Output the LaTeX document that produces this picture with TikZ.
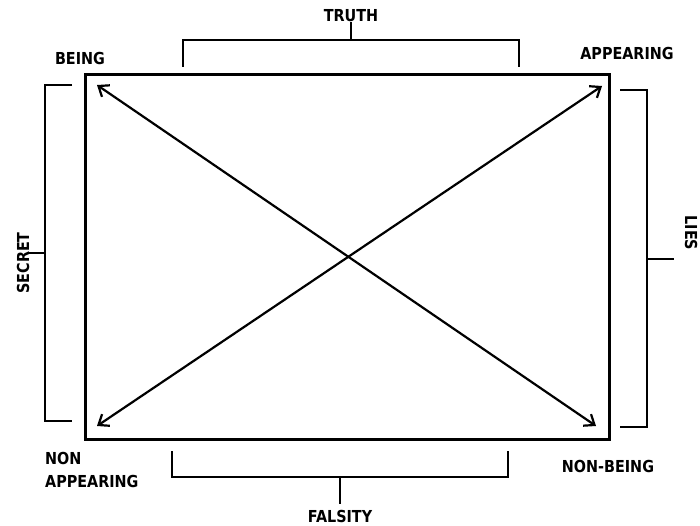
\documentclass[tikz,border=0pt]{standalone}
\usepackage{fontspec}
\setmainfont{DejaVu Sans}[FakeStretch=0.87]
\usepackage{tikz}
\usetikzlibrary{arrows.meta}
\tikzset{
  sqlabel/.style={font=\bfseries\fontsize{16.5}{23}\selectfont, inner sep=0pt, align=left},
  sqedge/.style={draw=black, line width=2.8pt, inner sep=0pt},
  sqline/.style={{Straight Barb[length=9pt,width=14pt]}-{Straight Barb[length=9pt,width=14pt]}, line width=2.2pt},
  sqbrace/.style={line width=2.6pt}
}

\begin{document}
\begin{tikzpicture}[x=1pt,y=-1pt]
  \useasboundingbox (0,0) rectangle (700,526);
  \node[sqedge, minimum width=524pt, minimum height=365pt, anchor=north west] (sq) at (84,73) {};

  \node[sqlabel] (being) at (80,58) {BEING};
  \node[sqlabel] (appearing) at (627,53) {APPEARING};
  \node[sqlabel, anchor=west] (nonapp) at (45,470) {NON\\APPEARING};
  \node[sqlabel] (nonbeing) at (608,466) {NON-BEING};
  \node[sqlabel] (truth) at (351,16) {TRUTH};
  \node[sqlabel] (falsity) at (340,516) {FALSITY};
  \node[sqlabel, rotate=90] (secret) at (23,263) {SECRET};
  \node[sqlabel, rotate=-90] (lies) at (691,233) {LIES};

  \coordinate (c-being) at (97,85);
  \coordinate (c-appear) at (602,86);
  \coordinate (c-nonapp) at (97,426);
  \coordinate (c-nonbeing) at (596,426);
  \draw[sqline] (c-being) -- (c-nonbeing);
  \draw[sqline] (c-nonapp) -- (c-appear);

  % brackets with their stems
  \coordinate (top-l) at (183,67);
  \coordinate (top-r) at (519,67);
  \coordinate (top-m) at (351,40);
  \draw[sqbrace] (top-l) |- (top-r |- top-m) -- (top-r);
  \draw[sqbrace] (top-m) -- (truth.south);

  \coordinate (bot-l) at (172,451);
  \coordinate (bot-r) at (508,451);
  \coordinate (bot-m) at (340,477);
  \draw[sqbrace] (bot-l) |- (bot-r |- bot-m) -- (bot-r);
  \draw[sqbrace] (bot-m) -- (340,504);

  \coordinate (lft-t) at (72,85);
  \coordinate (lft-b) at (72,421);
  \coordinate (lft-m) at (45,253);
  \draw[sqbrace] (lft-t) -- (lft-t -| lft-m) -- (lft-b -| lft-m) -- (lft-b);
  \draw[sqbrace] (lft-m) -- (27,253);

  \coordinate (rgt-t) at (620,90);
  \coordinate (rgt-b) at (620,427);
  \coordinate (rgt-m) at (647,259);
  \draw[sqbrace] (rgt-t) -- (rgt-t -| rgt-m) -- (rgt-b -| rgt-m) -- (rgt-b);
  \draw[sqbrace] (rgt-m) -- (674,259);
\end{tikzpicture}
\end{document}
